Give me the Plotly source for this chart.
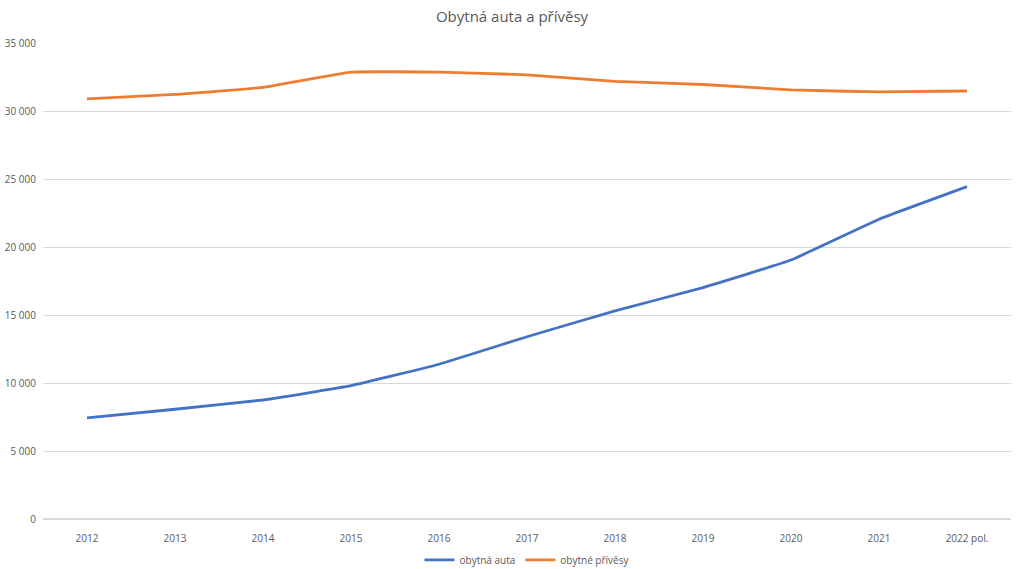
import plotly.graph_objects as go

years = ["2012", "2013", "2014", "2015", "2016", "2017", "2018", "2019", "2020", "2021", "2022 pol."]
obytna_auta = [7430, 8070, 8750, 9800, 11380, 13400, 15300, 17020, 19040, 22040, 24440]
obytne_privesy = [30890, 31220, 31740, 32860, 32860, 32660, 32180, 31950, 31560, 31400, 31470]
y_ticks = [0, 5000, 10000, 15000, 20000, 25000, 30000, 35000]

font_family = "Open Sans, Noto Sans, sans-serif"
txt = "#595959"

fig = go.Figure()
fig.add_trace(go.Scatter(x=years, y=obytna_auta, mode="lines", name="obytná auta",
                         line=dict(color="#4472C4", width=2.8, shape="spline", smoothing=0.3)))
fig.add_trace(go.Scatter(x=years, y=obytne_privesy, mode="lines", name="obytné přívěsy",
                         line=dict(color="#ED7D31", width=2.8, shape="spline", smoothing=0.3)))

fig.update_layout(
    width=1024, height=569,
    margin=dict(l=43, r=13, t=43, b=50, autoexpand=False),
    paper_bgcolor="white", plot_bgcolor="white",
    separators=", ",
    title=dict(text="Obytná auta a přívěsy", x=0.5, xanchor="center", y=0.970, yanchor="middle",
               font=dict(family=font_family, size=15, color=txt)),
    font=dict(family=font_family, size=10, color=txt),
    legend=dict(orientation="h", x=0.5, xanchor="center", y=-0.086, yanchor="middle",
                font=dict(size=10, color=txt), itemwidth=30),
    showlegend=True,
)
fig.update_xaxes(type="category", range=[-0.5, 10.5], showgrid=False, showline=False,
                 ticks="", ticklabelstandoff=12, tickfont=dict(size=10, color=txt),
                 fixedrange=True, automargin=False)
fig.update_yaxes(range=[0, 35000], tickvals=y_ticks, tickformat=",d", showgrid=True,
                 gridcolor="#D9D9D9", gridwidth=1, zeroline=True, zerolinecolor="#D9D9D9",
                 showline=False, ticks="", ticklabelstandoff=6, automargin=False,
                 tickfont=dict(size=10, color=txt))

# remove the browser's default 8px body margin so the figure fills the window exactly
fig.write_html("out.html", config={"displayModeBar": False},
               post_script="document.body.style.margin='0';document.body.style.overflow='hidden';")
